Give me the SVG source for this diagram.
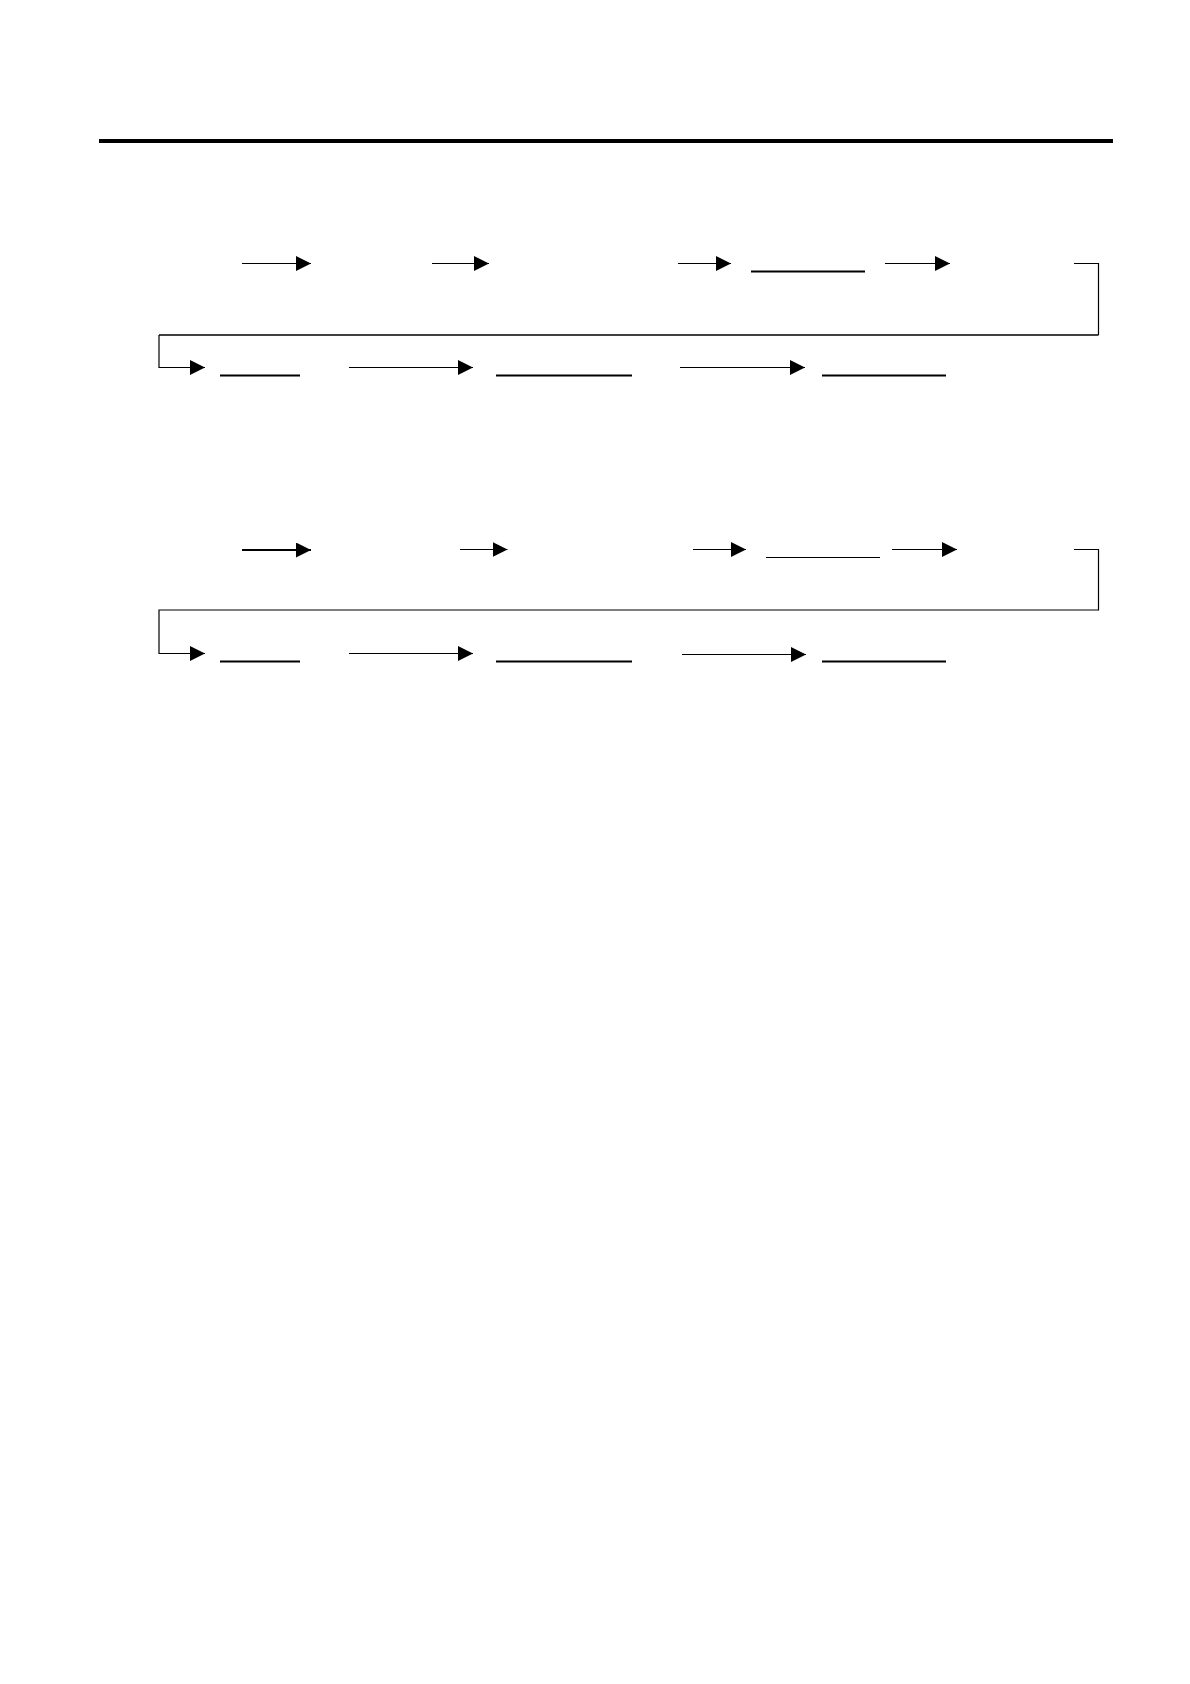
<svg xmlns="http://www.w3.org/2000/svg" width="1190" height="1684" viewBox="0 0 1190 1684">
<defs>
<style>
.ln{stroke:#000;fill:none;stroke-width:1.2}
.thk{stroke:#000;fill:none;stroke-width:2}
.ul{stroke:#000;fill:none;stroke-width:1.8}
.ulthin{stroke:#000;fill:none;stroke-width:1.1}
</style>
<marker id="ah" markerUnits="userSpaceOnUse" markerWidth="15" markerHeight="15" refX="15" refY="7.5" orient="auto" viewBox="0 0 15 15">
<path d="M0,0 L15,7.5 L0,15 z" fill="#000"/>
</marker>
</defs>
<rect width="1190" height="1684" fill="#fff"/>
<g id="rule">
<line x1="99" y1="141" x2="1113" y2="141" stroke="#000" stroke-width="4"/>
</g>
<g id="blanks1">
<line class="ul" x1="751" y1="271.5" x2="865" y2="271.5"/>
<line class="ul" x1="220" y1="375.5" x2="300" y2="375.5"/>
<line class="ul" x1="496" y1="375.5" x2="632" y2="375.5"/>
<line class="ul" x1="822" y1="375.5" x2="946" y2="375.5"/>
</g>
<g id="blanks2">
<line class="ulthin" x1="766" y1="557.5" x2="880" y2="557.5"/>
<line class="ul" x1="220" y1="661.5" x2="300" y2="661.5"/>
<line class="ul" x1="496" y1="661.5" x2="632" y2="661.5"/>
<line class="ul" x1="822" y1="661.5" x2="946" y2="661.5"/>
</g>
<g id="connectors">
<line class="ln" x1="242" y1="263.5" x2="311" y2="263.5" marker-end="url(#ah)"/>
<line class="ln" x1="432" y1="263.5" x2="489" y2="263.5" marker-end="url(#ah)"/>
<line class="ln" x1="678" y1="263.5" x2="731" y2="263.5" marker-end="url(#ah)"/>
<line class="ln" x1="885" y1="263.5" x2="950" y2="263.5" marker-end="url(#ah)"/>
<polyline class="ln" points="1074,263.5 1098.5,263.5 1098.5,335"/>
<line x1="1098.5" y1="335" x2="159" y2="335" stroke="#000" stroke-width="1.6"/>
<polyline class="ln" points="159,335 159,367.5 205,367.5" marker-end="url(#ah)"/>
<line class="ln" x1="349" y1="367.5" x2="473" y2="367.5" marker-end="url(#ah)"/>
<line class="ln" x1="680" y1="367.5" x2="805" y2="367.5" marker-end="url(#ah)"/>

<line class="thk" x1="242" y1="550" x2="311" y2="550" marker-end="url(#ah)"/>
<line class="ln" x1="460" y1="549.5" x2="507.5" y2="549.5" marker-end="url(#ah)"/>
<line class="ln" x1="693" y1="549.5" x2="746" y2="549.5" marker-end="url(#ah)"/>
<line class="ln" x1="892" y1="549.5" x2="957" y2="549.5" marker-end="url(#ah)"/>
<polyline class="ln" points="1074,549.5 1098.5,549.5 1098.5,610 159,610 159,653.5 205,653.5" marker-end="url(#ah)"/>
<line class="ln" x1="349" y1="653.5" x2="473" y2="653.5" marker-end="url(#ah)"/>
<line class="ln" x1="682" y1="654.5" x2="806" y2="654.5" marker-end="url(#ah)"/>
</g>
</svg>
